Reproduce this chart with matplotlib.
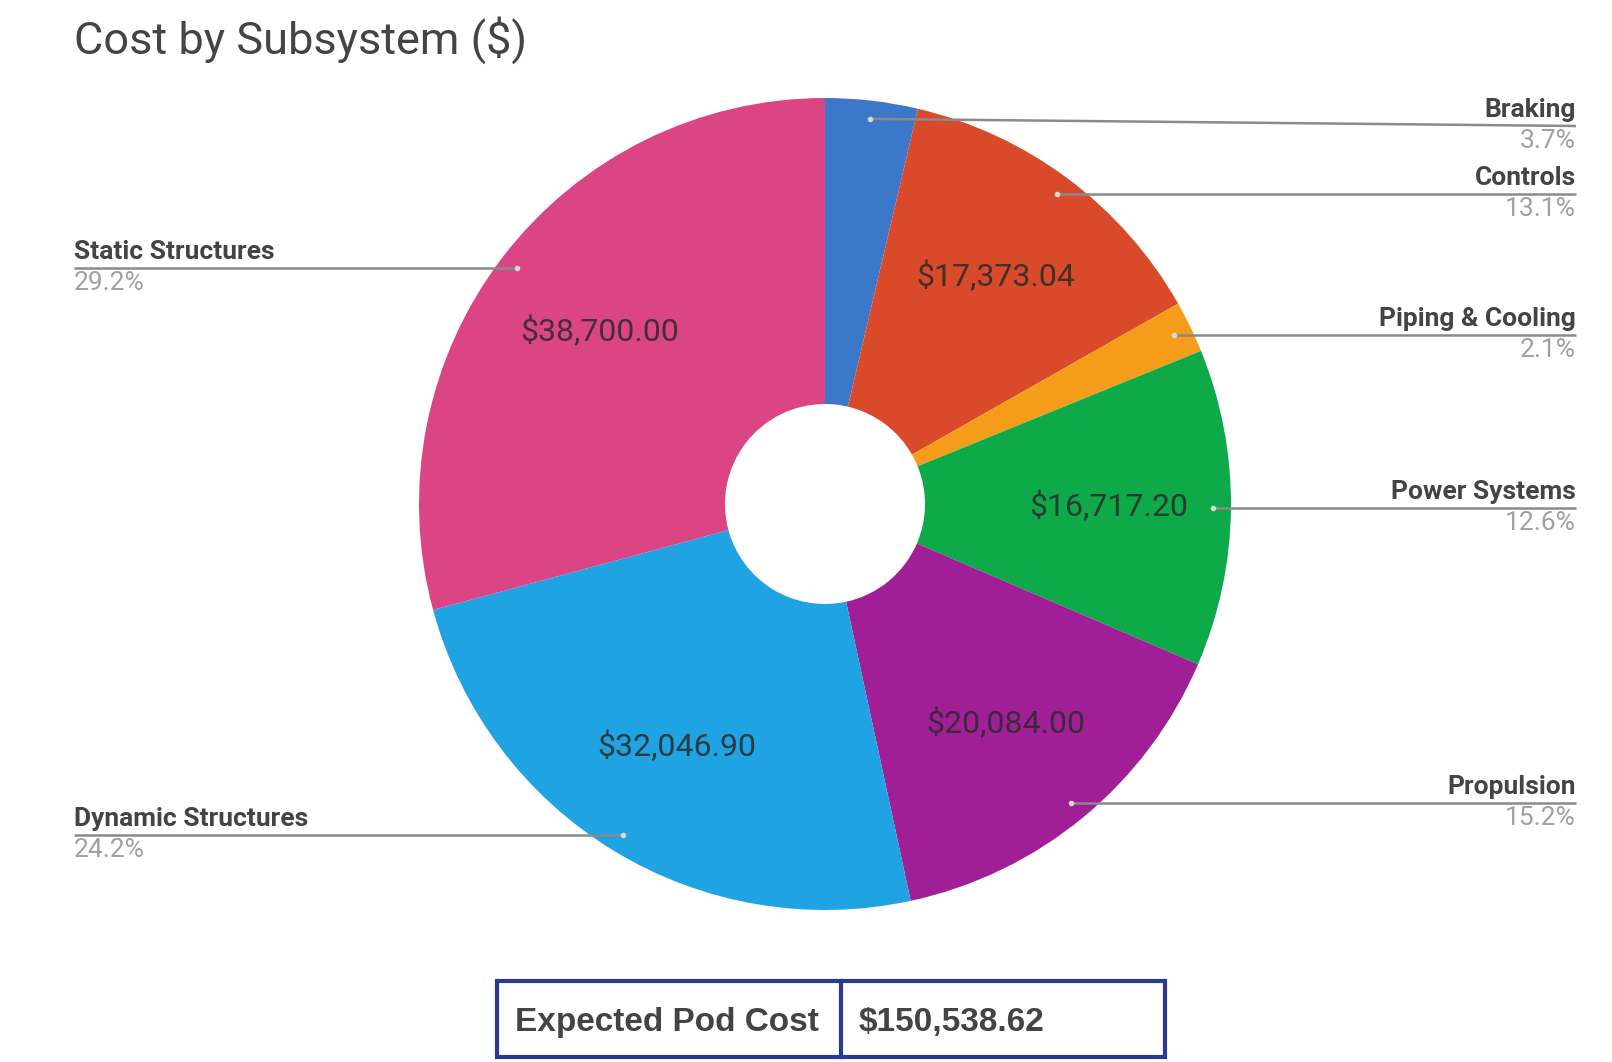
import matplotlib

matplotlib.use("Agg")
import matplotlib.pyplot as plt
import numpy as np
from matplotlib.patches import Rectangle

# data
subsystems = ["Braking", "Controls", "Piping & Cooling", "Power Systems",
              "Propulsion", "Dynamic Structures", "Static Structures"]
costs = [4870.00, 17373.04, 2728.86, 16717.20, 20084.00, 32046.90, 38700.00]
colors = ["#3b78c9", "#d84a2a", "#f59d1a", "#0eaa4a", "#a01f96", "#1fa3e2", "#dc4584"]
show_value = [False, True, False, True, True, True, True]
pod_cost_label = "Expected Pod Cost"
pod_cost = 150538.62

W, H = 1612, 1062
fig = plt.figure(figsize=(W / 100, H / 100), dpi=100)
ax = fig.add_axes([0, 0, 1, 1])
ax.set_aspect("equal")

cx, cy, R = 825, H - 504, 406
hole = 100

wedges, _ = ax.pie(costs, colors=colors, startangle=90, counterclock=False,
                   center=(cx, cy), radius=R,
                   wedgeprops=dict(width=R - hole, linewidth=0),
                   frame=True)
ax.set_xlim(0, W)
ax.set_ylim(0, H)
ax.axis("off")

total = sum(costs)
label_font = "Roboto"
for w, name, val, show in zip(wedges, subsystems, costs, show_value):
    mid = np.deg2rad((w.theta1 + w.theta2) / 2)
    ux, uy = np.cos(mid), np.sin(mid)
    if show:
        ax.text(cx + 0.70 * R * ux, cy + 0.70 * R * uy, f"${val:,.2f}",
                ha="center", va="center", fontsize=23, color="#2a2a2a",
                alpha=0.85, family=label_font)
    # leader line + label
    dx, dy = cx + 0.955 * R * ux, cy + 0.955 * R * uy
    line_y = min(dy, H - 126)
    right = ux >= 0
    ex = W - 36 if right else 74
    ax.plot([dx, ex], [dy, line_y], color="#8a8a8a", lw=1.8, solid_capstyle="butt")
    ax.plot(dx, dy, "o", ms=4, color="#d8d8d8", mec="none")
    ha = "right" if right else "left"
    ax.text(ex, line_y + 4, name, ha=ha, va="bottom", fontsize=19,
            fontweight="bold", color="#444444", family=label_font)
    ax.text(ex, line_y - 3, f"{val / total * 100:.1f}%", ha=ha, va="top",
            fontsize=19, color="#a0a0a0", family=label_font)

ax.text(74, H - 40, "Cost by Subsystem ($)", ha="left", va="center",
        fontsize=32.5, color="#444444", family=label_font)

# summary table
x0, x1, xm = 497, 1165, 841
y0, y1 = H - 1057, H - 981
border = "#2b3990"
ax.add_patch(Rectangle((x0, y0), x1 - x0, y1 - y0, fill=False, ec=border, lw=3))
ax.plot([xm, xm], [y0, y1], color=border, lw=3)
ax.text(515, (y0 + y1) / 2 - 3, pod_cost_label, ha="left", va="center",
        fontsize=24, fontweight="bold", color="#444444", family="Liberation Sans")
ax.text(859, (y0 + y1) / 2 - 3, f"${pod_cost:,.2f}", ha="left", va="center",
        fontsize=24, fontweight="bold", color="#444444", family="Liberation Sans")

fig.savefig("out.png", dpi=100)
